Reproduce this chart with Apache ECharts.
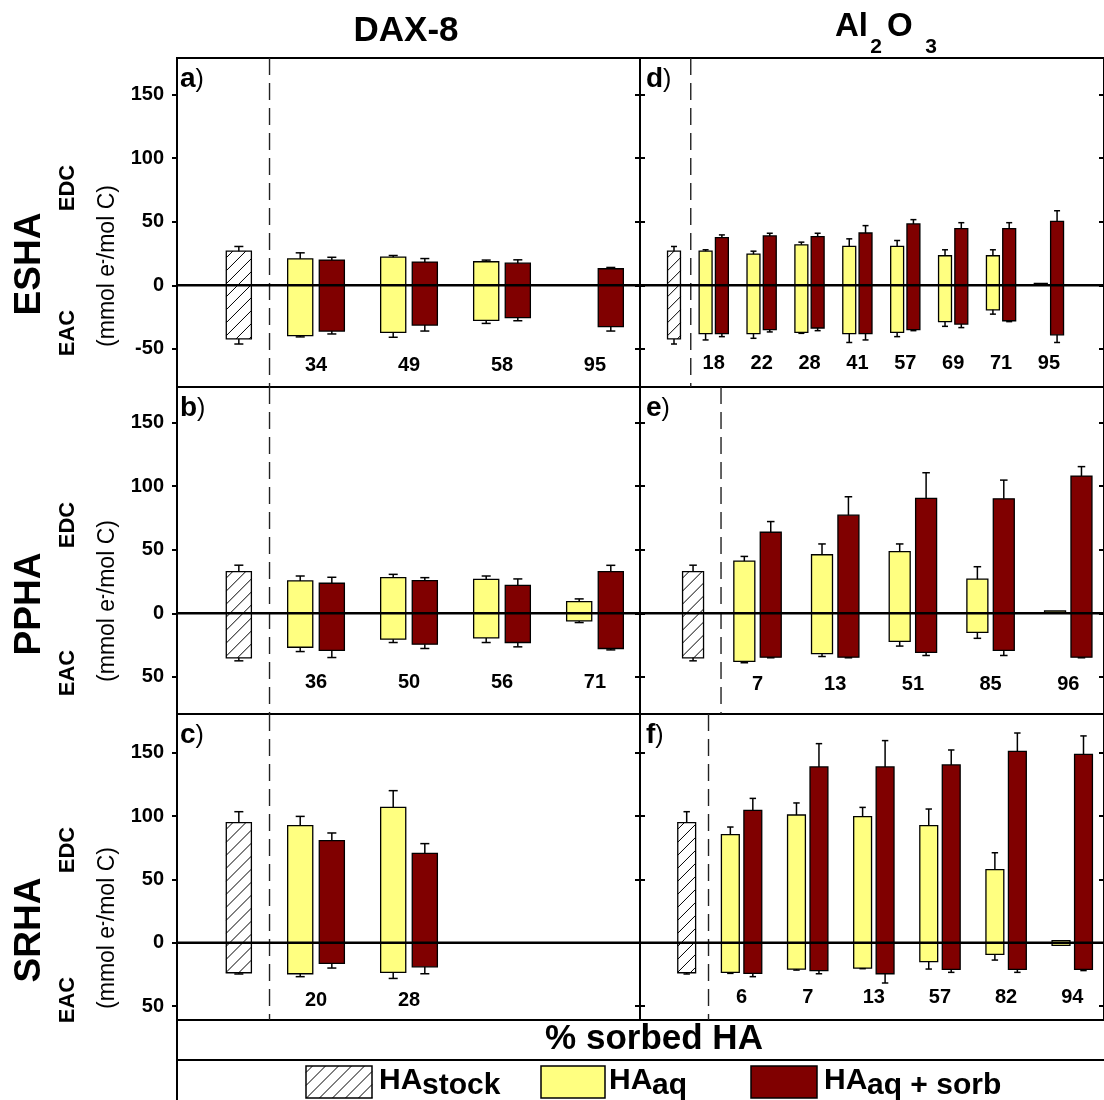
<!DOCTYPE html>
<html><head><meta charset="utf-8">
<script src="https://cdn.jsdelivr.net/npm/echarts@6/dist/echarts.min.js"></script>
<style>html,body{margin:0;padding:0;background:#fff}#c{width:1104px;height:1100px}</style>
</head><body><div id="c"></div>
<script>
// ================= DATA =================
const yTickValues = [-50, 0, 50, 100, 150];

// stock solutions: [EDC, EDC error, EAC, EAC error]  (mmol e-/mol C)
const eshaStock = [26.8, 3.7, 42.2, 4.0];
const pphaStock = [32.8, 5.0, 35.0, 2.4];
const srhaStock = [94.7, 8.7, 23.7, 1.0];

// a) ESHA – DAX-8
const aLabels = ['34', '49', '58', '95'];
const aAqEDC = [20.8, 22.1, 18.5, null];
const aAqEDCErr = [4.7, 1.3, 1.3, null];
const aAqEAC = [39.6, 37.0, 27.6, null];
const aAqEACErr = [1.0, 3.9, 2.4, null];
const aSorbEDC = [19.8, 18.2, 17.4, 13.0];
const aSorbEDCErr = [2.2, 2.8, 2.6, 1.0];
const aSorbEAC = [36.0, 31.3, 25.5, 32.6];
const aSorbEACErr = [2.3, 4.7, 2.4, 3.4];

// b) PPHA – DAX-8
const bLabels = ['36', '50', '56', '71'];
const bAqEDC = [25.4, 28.0, 26.7, 9.2];
const bAqEDCErr = [3.9, 2.6, 2.6, 2.1];
const bAqEAC = [26.7, 20.4, 19.4, 6.0];
const bAqEACErr = [3.4, 2.6, 3.6, 1.3];
const bSorbEDC = [23.6, 25.7, 22.0, 32.7];
const bSorbEDCErr = [4.7, 2.3, 5.0, 5.0];
const bSorbEAC = [29.1, 24.3, 23.0, 27.7];
const bSorbEACErr = [5.7, 3.4, 3.4, 1.1];

// c) SRHA – DAX-8
const cLabels = ['20', '28'];
const cAqEDC = [92.4, 106.8];
const cAqEDCErr = [7.3, 13.2];
const cAqEAC = [24.5, 23.4];
const cAqEACErr = [2.3, 4.8];
const cSorbEDC = [80.5, 70.5];
const cSorbEDCErr = [6.1, 7.7];
const cSorbEAC = [16.3, 19.0];
const cSorbEACErr = [3.7, 5.5];

// d) ESHA – Al2O3
const dLabels = ['18', '22', '28', '41', '57', '69', '71', '95'];
const dAqEDC = [26.8, 24.5, 31.8, 30.5, 30.5, 23.2, 23.2, 1.5];
const dAqEDCErr = [1.1, 2.3, 2.1, 6.0, 4.7, 4.7, 4.7, 0];
const dAqEAC = [38.0, 38.0, 37.0, 38.0, 37.0, 28.6, 19.3, 0];
const dAqEACErr = [5.0, 3.7, 0.8, 7.0, 3.4, 3.7, 3.4, 0];
const dSorbEDC = [37.5, 38.8, 38.3, 41.1, 48.2, 44.5, 44.5, 50.3];
const dSorbEDCErr = [2.1, 2.1, 2.6, 5.8, 3.4, 4.7, 4.7, 8.3];
const dSorbEAC = [38.0, 34.9, 33.6, 38.0, 34.9, 30.5, 27.9, 39.0];
const dSorbEACErr = [2.4, 1.8, 2.1, 5.0, 0.8, 2.8, 0.7, 6.0];

// e) PPHA – Al2O3
const eLabels = ['7', '13', '51', '85', '96'];
const eAqEDC = [41.0, 46.0, 48.4, 26.8, 1.8];
const eAqEDCErr = [3.7, 8.5, 6.1, 9.8, 0];
const eAqEAC = [37.9, 31.8, 22.1, 15.0, 0];
const eAqEACErr = [1.0, 2.2, 3.7, 4.7, 0];
const eSorbEDC = [63.7, 77.1, 90.3, 90.0, 107.9];
const eSorbEDCErr = [8.4, 14.5, 20.2, 14.7, 7.4];
const eSorbEAC = [34.5, 34.5, 30.8, 29.2, 34.5];
const eSorbEACErr = [0.5, 0.5, 2.4, 4.0, 0.5];

// f) SRHA – Al2O3
const fLabels = ['6', '7', '13', '57', '82', '94'];
const fAqEDC = [85.3, 100.8, 99.5, 92.4, 57.6, 1.6];
const fAqEDCErr = [6.0, 9.5, 7.3, 13.1, 13.4, 0];
const fAqEAC = [23.4, 20.8, 20.0, 15.0, 9.2, 2.1];
const fAqEACErr = [0.8, 0.8, 0.5, 5.8, 4.5, 0];
const fSorbEDC = [104.5, 138.7, 138.7, 140.3, 151.0, 148.7];
const fSorbEDCErr = [9.4, 18.4, 20.8, 11.8, 14.5, 14.5];
const fSorbEAC = [24.2, 22.1, 24.5, 21.0, 21.0, 21.0];
const fSorbEACErr = [2.6, 2.4, 7.3, 2.4, 2.4, 1.0];

// ================= LAYOUT / STYLE =================
const FONT = '"Liberation Sans", Arial, sans-serif';
const YELLOW = '#FFFF80';
const MAROON = '#800000';
const BAR_W = 0.27;     // bar width in slot units
const PAIR_OFF = 0.17;  // offset of aq / sorb bars from slot centre
const STOCK_X = 0.17;   // stock bar position

const rows = [
  { top: 58, bottom: 387, yMin: -80, yMax: 178.7 },
  { top: 387, bottom: 714, yMin: -79.2, yMax: 177.9 },
  { top: 714, bottom: 1020, yMin: -61, yMax: 180.5 }
];
const cols = [{ left: 177, right: 640 }, { left: 640, right: 1106 }];

const panels = [
  { tag: 'a', row: 0, col: 0, labels: aLabels, stock: eshaStock,
    aq: [aAqEDC, aAqEDCErr, aAqEAC, aAqEACErr], sorb: [aSorbEDC, aSorbEDCErr, aSorbEAC, aSorbEACErr],
    xMin: -0.495, xMax: 4.484, dash: 0.5, lm: 12 },
  { tag: 'b', row: 1, col: 0, labels: bLabels, stock: pphaStock,
    aq: [bAqEDC, bAqEDCErr, bAqEAC, bAqEACErr], sorb: [bSorbEDC, bSorbEDCErr, bSorbEAC, bSorbEACErr],
    xMin: -0.495, xMax: 4.484, dash: 0.5, lm: 22 },
  { tag: 'c', row: 2, col: 0, labels: cLabels, stock: srhaStock,
    aq: [cAqEDC, cAqEDCErr, cAqEAC, cAqEACErr], sorb: [cSorbEDC, cSorbEDCErr, cSorbEAC, cSorbEACErr],
    xMin: -0.495, xMax: 4.484, dash: 0.5, lm: 10 },
  { tag: 'd', row: 0, col: 1, labels: dLabels, stock: eshaStock,
    aq: [dAqEDC, dAqEDCErr, dAqEAC, dAqEACErr], sorb: [dSorbEDC, dSorbEDCErr, dSorbEAC, dSorbEACErr],
    xMin: -0.54, xMax: 9.15, dash: 0.52, lm: 14 },
  { tag: 'e', row: 1, col: 1, labels: eLabels, stock: pphaStock,
    aq: [eAqEDC, eAqEDCErr, eAqEAC, eAqEACErr], sorb: [eSorbEDC, eSorbEDCErr, eSorbEAC, eSorbEACErr],
    xMin: -0.513, xMax: 5.46, dash: 0.53, lm: 20 },
  { tag: 'f', row: 2, col: 1, labels: fLabels, stock: srhaStock,
    aq: [fAqEDC, fAqEDCErr, fAqEAC, fAqEACErr], sorb: [fSorbEDC, fSorbEDCErr, fSorbEAC, fSorbEACErr],
    xMin: -0.536, xMax: 6.48, dash: 0.5, lm: 13 }
];

// ================= RENDERERS =================
function hatchLines(x0, y0, x1, y1, step) {
  const out = [];
  for (let c = x0 + y0 + step / 2; c < x1 + y1; c += step) {
    const xa = Math.max(x0, c - y1), xb = Math.min(x1, c - y0);
    if (xb > xa) out.push({ type: 'line', shape: { x1: xa, y1: c - xa, x2: xb, y2: c - xb },
      style: { stroke: '#000', lineWidth: 1 } });
  }
  return out;
}

function makeBarRenderer(fill, hatch) {
  return function (params, api) {
    const x = api.value(0), edc = api.value(1), edcErr = api.value(2);
    const eac = api.value(3), eacErr = api.value(4);
    const w = api.size([BAR_W, 0])[0];
    const pTop = api.coord([x, edc]);
    const pBot = api.coord([x, -eac]);
    const cx = pTop[0], x0 = cx - w / 2;
    const h = Math.max(pBot[1] - pTop[1], 1.5);
    const children = [{ type: 'rect', shape: { x: x0, y: pTop[1], width: w, height: h },
      style: { fill: fill, stroke: '#000', lineWidth: 1.3 } }];
    if (hatch) children.push(...hatchLines(x0, pTop[1], x0 + w, pTop[1] + h, 13));
    const cap = Math.max(6, w * 0.36);
    if (edcErr > 0) {
      const ye = api.coord([x, edc + edcErr])[1];
      children.push({ type: 'line', shape: { x1: cx, y1: pTop[1], x2: cx, y2: ye }, style: { stroke: '#000', lineWidth: 1.5 } });
      children.push({ type: 'line', shape: { x1: cx - cap / 2, y1: ye, x2: cx + cap / 2, y2: ye }, style: { stroke: '#000', lineWidth: 1.5 } });
    }
    if (eacErr > 0) {
      const ye = api.coord([x, -eac - eacErr])[1];
      children.push({ type: 'line', shape: { x1: cx, y1: pBot[1], x2: cx, y2: ye }, style: { stroke: '#000', lineWidth: 1.5 } });
      children.push({ type: 'line', shape: { x1: cx - cap / 2, y1: ye, x2: cx + cap / 2, y2: ye }, style: { stroke: '#000', lineWidth: 1.5 } });
    }
    return { type: 'group', children: children };
  };
}

function makeFrameRenderer(dashX) {
  return function (params, api) {
    const cs = params.coordSys;
    const y0 = api.coord([0, 0])[1];
    const dx = api.coord([dashX, 0])[0];
    return { type: 'group', children: [
      { type: 'line', shape: { x1: dx, y1: cs.y, x2: dx, y2: cs.y + cs.height },
        style: { stroke: '#222', lineWidth: 1.4, lineDash: [17, 8] } },
      { type: 'line', shape: { x1: cs.x, y1: y0, x2: cs.x + cs.width, y2: y0 },
        style: { stroke: '#000', lineWidth: 2.5 } }
    ] };
  };
}

// ================= BUILD OPTION =================
const grid = [], xAxis = [], yAxis = [], series = [];
panels.forEach((p, g) => {
  const r = rows[p.row], c = cols[p.col];
  grid.push({ left: c.left, top: r.top, width: c.right - c.left, height: r.bottom - r.top,
    show: true, borderColor: '#000', borderWidth: 2, backgroundColor: 'transparent' });
  xAxis.push({ type: 'value', gridIndex: g, min: p.xMin, max: p.xMax, position: 'bottom',
    axisLine: { show: false, onZero: false }, axisTick: { show: false }, splitLine: { show: false },
    axisLabel: { show: true, inside: true, margin: p.lm,
      customValues: p.labels.map((_, i) => i + 1),
      formatter: v => p.labels[Math.round(v) - 1] || '',
      color: '#000', fontSize: 20, fontWeight: 'bold', fontFamily: FONT } });
  const rowIdx = p.row;
  yAxis.push({ type: 'value', gridIndex: g, min: r.yMin, max: r.yMax, position: 'left',
    axisLine: { show: true, onZero: false, lineStyle: { color: '#000', width: 2 } },
    axisTick: { show: true, inside: p.col === 1, length: 5, customValues: yTickValues,
      lineStyle: { color: '#000', width: 2 } },
    axisLabel: { show: p.col === 0, customValues: yTickValues, margin: 13,
      formatter: v => (rowIdx === 0 ? String(v) : String(Math.abs(v))),
      color: '#000', fontSize: 20, fontWeight: 'bold', fontFamily: FONT },
    splitLine: { show: false } });
  yAxis.push({ type: 'value', gridIndex: g, min: r.yMin, max: r.yMax, position: 'right',
    axisLine: { show: false, onZero: false },
    axisTick: { show: true, inside: true, length: 5, customValues: yTickValues,
      lineStyle: { color: '#000', width: 2 } },
    axisLabel: { show: false }, splitLine: { show: false } });

  const stockData = [[STOCK_X, p.stock[0], p.stock[1], p.stock[2], p.stock[3]]];
  const aqData = [], sorbData = [];
  p.labels.forEach((_, i) => {
    if (p.aq[0][i] != null) aqData.push([i + 1 - PAIR_OFF, p.aq[0][i], p.aq[1][i], p.aq[2][i], p.aq[3][i]]);
    if (p.sorb[0][i] != null) sorbData.push([i + 1 + PAIR_OFF, p.sorb[0][i], p.sorb[1][i], p.sorb[2][i], p.sorb[3][i]]);
  });
  const yi = g * 2;
  series.push({ type: 'custom', name: 'HAstock', xAxisIndex: g, yAxisIndex: yi, z: 2,
    renderItem: makeBarRenderer('#fff', true), data: stockData });
  series.push({ type: 'custom', name: 'HAaq', xAxisIndex: g, yAxisIndex: yi, z: 2,
    renderItem: makeBarRenderer(YELLOW, false), data: aqData });
  series.push({ type: 'custom', name: 'HAaq + sorb', xAxisIndex: g, yAxisIndex: yi, z: 2,
    renderItem: makeBarRenderer(MAROON, false), data: sorbData });
  series.push({ type: 'custom', name: 'frame' + g, xAxisIndex: g, yAxisIndex: yi, z: 5,
    renderItem: makeFrameRenderer(p.dash), data: [[0, 0]] });
});

// ---------- text & decoration ----------
const graphic = [];
function txt(x, y, text, font, opts, align) {
  return Object.assign({ type: 'text', x: x, y: y, z: 20,
    style: { text: text, font: font, fill: '#000', align: align || 'center', verticalAlign: 'middle' } }, opts || {});
}
// column titles
graphic.push(txt(406, 31, 'DAX-8', 'bold 35px ' + FONT));
graphic.push(txt(835, 27, 'Al', 'bold 33px ' + FONT, null, 'left'));
graphic.push(txt(876, 47, '2', 'bold 21px ' + FONT));
graphic.push(txt(887, 27, 'O', 'bold 33px ' + FONT, null, 'left'));
graphic.push(txt(931, 47, '3', 'bold 21px ' + FONT));

// row titles
const rowTitles = [
  { name: 'ESHA', y: 264, edc: 188, eac: 333, unit: 266 },
  { name: 'PPHA', y: 604, edc: 525, eac: 673, unit: 601 },
  { name: 'SRHA', y: 930, edc: 850, eac: 1000, unit: 928 }
];
rowTitles.forEach(rt => {
  graphic.push(txt(30, rt.y, rt.name, 'bold 37px ' + FONT, { rotation: Math.PI / 2 }));
  graphic.push(txt(68, rt.edc, 'EDC', 'bold 22px ' + FONT, { rotation: Math.PI / 2 }));
  graphic.push(txt(68, rt.eac, 'EAC', 'bold 22px ' + FONT, { rotation: Math.PI / 2 }));
  graphic.push({ type: 'text', x: 108, y: rt.unit, rotation: Math.PI / 2, z: 20,
    style: { text: '{r|(mmol e}{s|-}{r|/mol C)}', align: 'center', verticalAlign: 'middle', fill: '#000',
      rich: { r: { font: '23px ' + FONT, fill: '#000', verticalAlign: 'bottom' },
              s: { font: 'bold 14px ' + FONT, fill: '#000', verticalAlign: 'top' } } } });
});

// panel tags
panels.forEach(p => {
  const r = rows[p.row], c = cols[p.col];
  graphic.push({ type: 'text', x: c.left + (p.col === 0 ? 3 : 6), y: r.top + 35, z: 20,
    style: { text: '{l|' + p.tag + '}{p|)}', align: 'left', verticalAlign: 'bottom', fill: '#000',
      rich: { l: { font: 'bold 28px ' + FONT, fill: '#000', verticalAlign: 'bottom' },
              p: { font: '25px ' + FONT, fill: '#000', verticalAlign: 'bottom' } } } });
});

// bottom boxes
graphic.push({ type: 'line', z: 20, shape: { x1: 177, y1: 1019, x2: 177, y2: 1100 }, style: { stroke: '#000', lineWidth: 2 } });
graphic.push({ type: 'line', z: 20, shape: { x1: 177, y1: 1060, x2: 1104, y2: 1060 }, style: { stroke: '#000', lineWidth: 2 } });
graphic.push(txt(654, 1039, '% sorbed HA', 'bold 35px ' + FONT));

// legend
const legendItems = [
  { x: 306, w: 66, fill: '#fff', hatch: true, main: 'HA', sub: 'stock', tx: 379 },
  { x: 541, w: 64, fill: YELLOW, hatch: false, main: 'HA', sub: 'aq', tx: 609 },
  { x: 751, w: 66, fill: MAROON, hatch: false, main: 'HA', sub: 'aq + sorb', tx: 824 }
];
legendItems.forEach(li => {
  graphic.push({ type: 'rect', z: 20, shape: { x: li.x, y: 1066, width: li.w, height: 32 },
    style: { fill: li.fill, stroke: '#000', lineWidth: 1.5 } });
  if (li.hatch) hatchLines(li.x, 1066, li.x + li.w, 1098, 13).forEach(l => { l.z = 21; graphic.push(l); });
  graphic.push({ type: 'text', x: li.tx, y: 1081, z: 20,
    style: { text: li.main, font: 'bold 30px ' + FONT, fill: '#000', align: 'left', verticalAlign: 'middle' } });
  graphic.push({ type: 'text', x: li.tx + 43, y: 1086, z: 20,
    style: { text: li.sub, font: 'bold 30px ' + FONT, fill: '#000', align: 'left', verticalAlign: 'middle' } });
});

const chart = echarts.init(document.getElementById('c'), null, { renderer: 'canvas' });
chart.setOption({
  animation: false,
  backgroundColor: '#fff',
  grid: grid, xAxis: xAxis, yAxis: yAxis, series: series, graphic: graphic
});
</script>
</body></html>
